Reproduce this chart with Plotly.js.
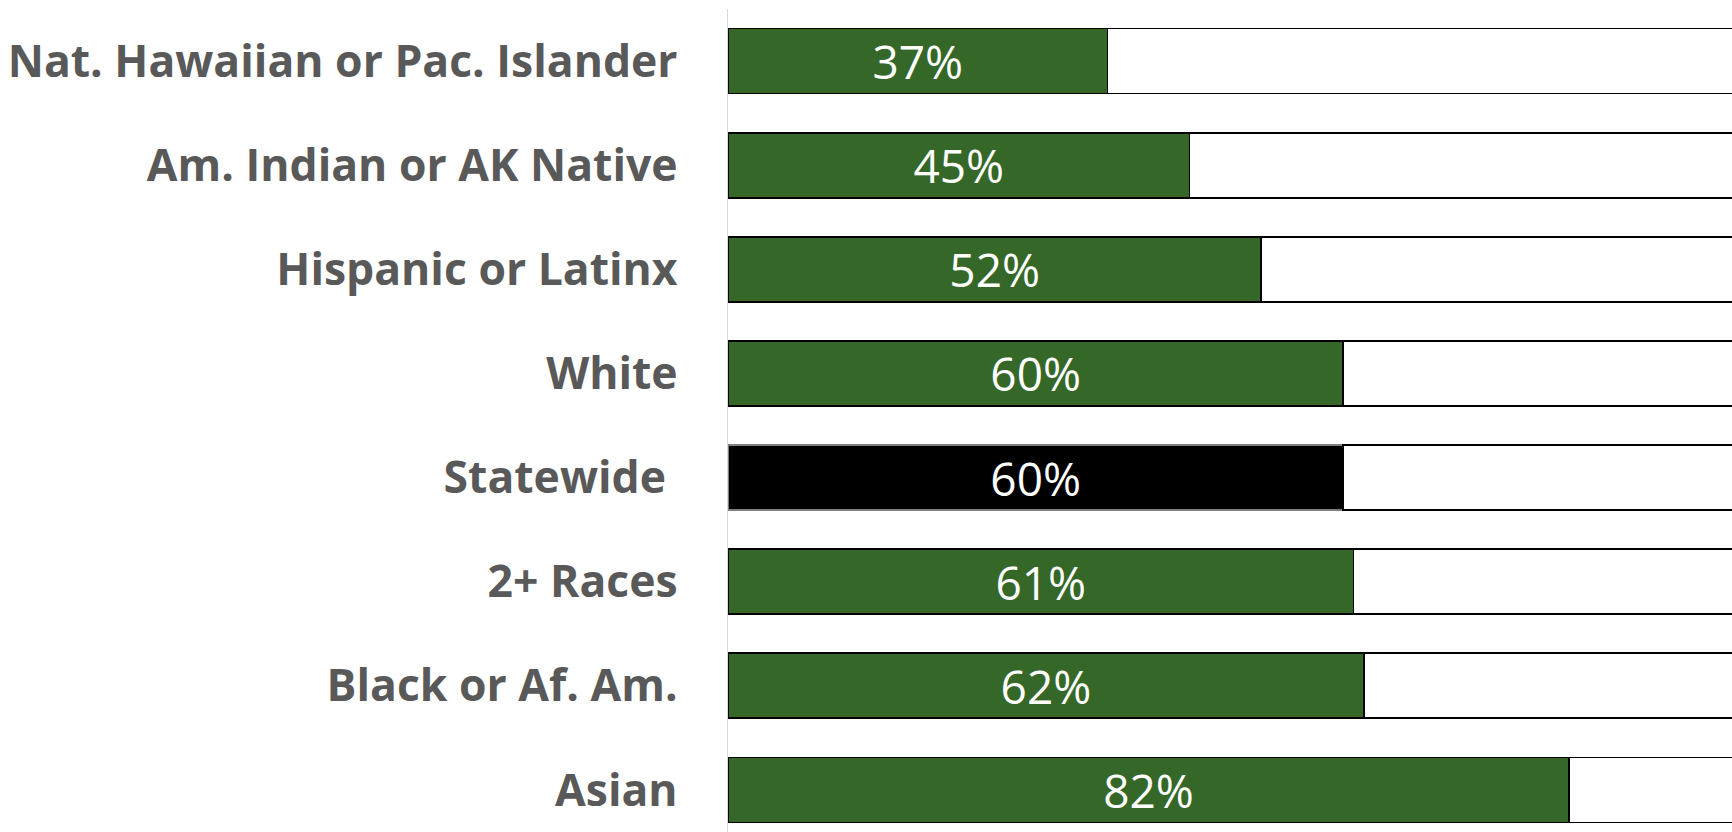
<!DOCTYPE html>
<html>
<head>
<meta charset="utf-8">
<script src="https://cdn.plot.ly/plotly-3.0.1.min.js"></script>
<style>
html,body{margin:0;padding:0;background:#fff;overflow:hidden;}
#chart{width:1732px;height:832px;}
</style>
</head>
<body>
<div id="chart"></div>
<script>
const categories = ["Nat. Hawaiian or Pac. Islander", "Am. Indian or AK Native", "Hispanic or Latinx", "White", "Statewide\u00a0", "2+ Races", "Black or Af. Am.", "Asian"];
const values = [0.37, 0.45, 0.52, 0.60, 0.60, 0.61, 0.62, 0.82];
const remainder = values.map(v => 1 - v);
const barColors = categories.map(c => c.startsWith("Statewide") ? "#000000" : "#356828");
const lineColors = categories.map(c => c.startsWith("Statewide") ? "#7f7f7f" : "#000000");

const traces = [
  {
    type: "bar", orientation: "h",
    y: categories, x: values,
    marker: {color: barColors, line: {color: lineColors, width: 1.8}},
    texttemplate: "%{x:.0%}",
    textposition: "inside",
    insidetextanchor: "middle",
    constraintext: "none",
    textfont: {family: "Open Sans", size: 46, color: "#ffffff"},
    hoverinfo: "skip",
    showlegend: false
  },
  {
    type: "bar", orientation: "h",
    y: categories, x: remainder,
    marker: {color: "#ffffff", line: {color: "#000000", width: 1.8}},
    hoverinfo: "skip",
    showlegend: false
  }
];

const layout = {
  width: 1732, height: 832,
  margin: {l: 728, r: 0, t: 9, b: 0, pad: 0},
  paper_bgcolor: "#ffffff", plot_bgcolor: "#ffffff",
  barmode: "stack",
  bargap: 0.376,
  xaxis: {range: [0, 0.979], showgrid: false, zeroline: false, showline: false, showticklabels: false, ticks: "", fixedrange: true},
  yaxis: {
    type: "category",
    range: [7.404, -0.5],
    showgrid: false, zeroline: false,
    showline: true, linecolor: "#d9d9d9", linewidth: 1.5,
    ticks: "", ticklabelstandoff: 40,
    tickfont: {family: "Open Sans", size: 44.5, color: "#595959", weight: "bold"},
    fixedrange: true
  },
  font: {family: "Open Sans"}
};

Plotly.newPlot("chart", traces, layout, {displayModeBar: false, staticPlot: true});
</script>
</body>
</html>
